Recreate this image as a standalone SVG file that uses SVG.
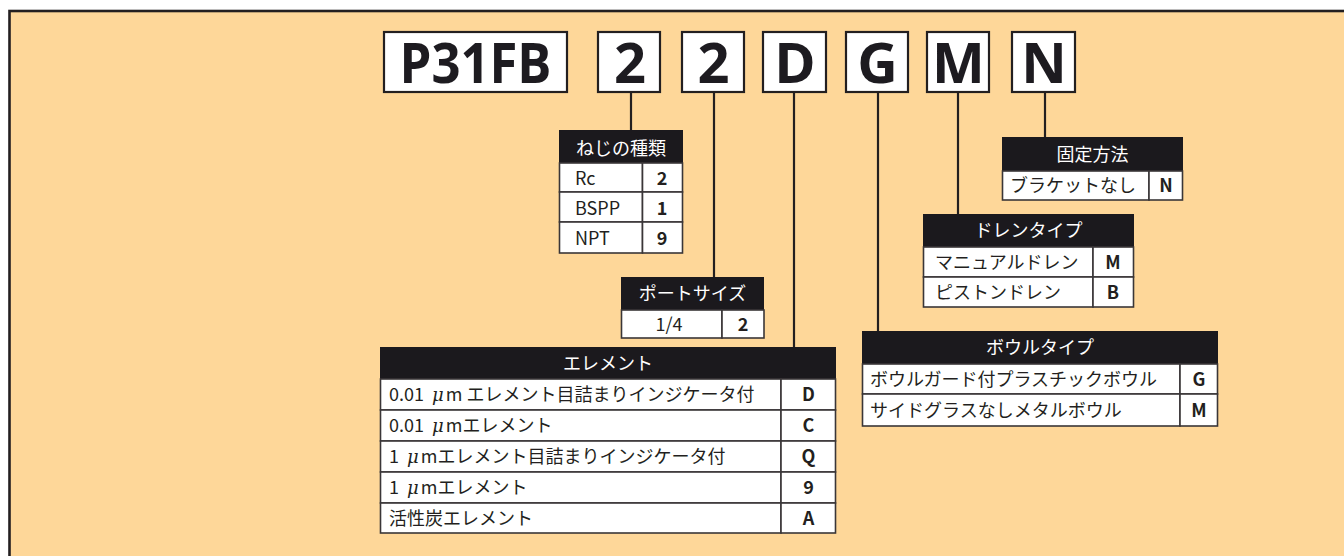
<svg xmlns="http://www.w3.org/2000/svg" width="1344" height="556" viewBox="0 0 1344 556">
<style>
.bg{fill:#fed799;stroke:#231f20;stroke-width:2.6}
.code rect{fill:#fff;stroke:#231f20;stroke-width:2.2}
.code text{font-family:"Open Sans","Noto Sans",sans-serif;font-weight:700;font-size:56px;fill:#1d1b20;text-anchor:middle}
.hd{fill:#1b191d}
.cell{fill:#fff;stroke:#3a3638;stroke-width:1.6}
.ht{font-family:"Noto Sans CJK JP","Noto Sans",sans-serif;font-size:18px;fill:#fff;text-anchor:middle}
.rt{font-family:"Noto Sans CJK JP","Noto Sans",sans-serif;font-size:18px;fill:#231f20}
.ct{font-family:"Noto Sans CJK JP","Noto Sans",sans-serif;font-size:18px;font-weight:700;fill:#231f20;text-anchor:middle}
.mid{text-anchor:middle}
.mu{font-style:italic;font-family:"DejaVu Serif","Liberation Serif",serif}
.conn line{stroke:#231f20;stroke-width:2.2}
</style>
<rect class="bg" x="9.5" y="11" width="1400" height="600"/>

<g id="code-boxes">
<g id="code-P31FB" class="code"><rect x="384" y="32" width="183" height="60"/><text x="475.5" y="83" textLength="152" lengthAdjust="spacingAndGlyphs">P31FB</text></g>
<g id="code-thread" class="code"><rect x="598" y="32" width="62" height="60"/><text x="630" y="83">2</text></g>
<g id="code-port" class="code"><rect x="682" y="32" width="62" height="60"/><text x="713.5" y="83">2</text></g>
<g id="code-element" class="code"><rect x="763" y="32" width="63" height="60"/><text x="795" y="83">D</text></g>
<g id="code-bowl" class="code"><rect x="846" y="32" width="62" height="60"/><text x="877.5" y="83">G</text></g>
<g id="code-drain" class="code"><rect x="927" y="32" width="62" height="60"/><text x="958.5" y="83">M</text></g>
<g id="code-mount" class="code"><rect x="1012" y="32" width="63" height="60"/><text x="1044" y="83">N</text></g>
</g>

<g id="connectors" class="conn">
<line x1="631" y1="92" x2="631" y2="131"/>
<line x1="714" y1="92" x2="714" y2="278"/>
<line x1="794" y1="92" x2="794" y2="348"/>
<line x1="878" y1="92" x2="878" y2="332"/>
<line x1="958" y1="92" x2="958" y2="215"/>
<line x1="1045" y1="92" x2="1045" y2="138"/>
</g>

<g id="table-thread">
<rect class="hd" x="559" y="130" width="124" height="33"/>
<text class="ht" x="621" y="155">ねじの種類</text>
<rect class="cell" x="559.5" y="163" width="83" height="29"/><rect class="cell" x="642.5" y="163" width="40" height="29"/>
<rect class="cell" x="559.5" y="192" width="83" height="30"/><rect class="cell" x="642.5" y="192" width="40" height="30"/>
<rect class="cell" x="559.5" y="222" width="83" height="31"/><rect class="cell" x="642.5" y="222" width="40" height="31"/>
<text class="rt" x="575" y="185">Rc</text><text class="ct" x="662" y="185">2</text>
<text class="rt" x="575" y="215">BSPP</text><text class="ct" x="662" y="215">1</text>
<text class="rt" x="575" y="245">NPT</text><text class="ct" x="662" y="245">9</text>
</g>

<g id="table-port">
<rect class="hd" x="621" y="277" width="143" height="33"/>
<text class="ht" x="692.5" y="300">ポートサイズ</text>
<rect class="cell" x="621.5" y="310" width="100.5" height="28"/><rect class="cell" x="722" y="310" width="42" height="28"/>
<text class="rt mid" x="669" y="331">1/4</text><text class="ct" x="743" y="331">2</text>
</g>

<g id="table-element">
<rect class="hd" x="380" y="347" width="456" height="32"/>
<text class="ht" x="608" y="370">エレメント</text>
<rect class="cell" x="380.5" y="379" width="400.5" height="31"/><rect class="cell" x="781" y="379" width="54.5" height="31"/>
<rect class="cell" x="380.5" y="410" width="400.5" height="31"/><rect class="cell" x="781" y="410" width="54.5" height="31"/>
<rect class="cell" x="380.5" y="441" width="400.5" height="31"/><rect class="cell" x="781" y="441" width="54.5" height="31"/>
<rect class="cell" x="380.5" y="472" width="400.5" height="31"/><rect class="cell" x="781" y="472" width="54.5" height="31"/>
<rect class="cell" x="380.5" y="503" width="400.5" height="30"/><rect class="cell" x="781" y="503" width="54.5" height="30"/>
<text class="rt" x="389" y="401">0.01 <tspan class="mu" dx="4">μ</tspan><tspan dx="2">m エレメント目詰まりインジケータ付</tspan></text><text class="ct" x="808.5" y="401">D</text>
<text class="rt" x="389" y="432">0.01 <tspan class="mu" dx="4">μ</tspan><tspan dx="2">mエレメント</tspan></text><text class="ct" x="808.5" y="432">C</text>
<text class="rt" x="389" y="463">1 <tspan class="mu" dx="4">μ</tspan><tspan dx="2">mエレメント目詰まりインジケータ付</tspan></text><text class="ct" x="808.5" y="463">Q</text>
<text class="rt" x="389" y="494">1 <tspan class="mu" dx="4">μ</tspan><tspan dx="2">mエレメント</tspan></text><text class="ct" x="808.5" y="494">9</text>
<text class="rt" x="389" y="525">活性炭エレメント</text><text class="ct" x="808.5" y="525">A</text>
</g>

<g id="table-drain">
<rect class="hd" x="923" y="214" width="211" height="33"/>
<text class="ht" x="1028.5" y="237">ドレンタイプ</text>
<rect class="cell" x="923.5" y="247" width="169.5" height="30"/><rect class="cell" x="1093" y="247" width="40.5" height="30"/>
<rect class="cell" x="923.5" y="277" width="169.5" height="30"/><rect class="cell" x="1093" y="277" width="40.5" height="30"/>
<text class="rt" x="935" y="269">マニュアルドレン</text><text class="ct" x="1113" y="269">M</text>
<text class="rt" x="935" y="299">ピストンドレン</text><text class="ct" x="1113" y="299">B</text>
</g>

<g id="table-bowl">
<rect class="hd" x="862" y="331" width="356" height="33"/>
<text class="ht" x="1040" y="354">ボウルタイプ</text>
<rect class="cell" x="862.5" y="364" width="317.5" height="30"/><rect class="cell" x="1180" y="364" width="37.5" height="30"/>
<rect class="cell" x="862.5" y="394" width="317.5" height="32"/><rect class="cell" x="1180" y="394" width="37.5" height="32"/>
<text class="rt" x="870" y="386">ボウルガード付プラスチックボウル</text><text class="ct" x="1199" y="386">G</text>
<text class="rt" x="870" y="417">サイドグラスなしメタルボウル</text><text class="ct" x="1199" y="417">M</text>
</g>

<g id="table-mount">
<rect class="hd" x="1002" y="137" width="181" height="34"/>
<text class="ht" x="1092.5" y="161">固定方法</text>
<rect class="cell" x="1002.5" y="171" width="146.5" height="29"/><rect class="cell" x="1149" y="171" width="33.5" height="29"/>
<text class="rt" x="1010" y="192">ブラケットなし</text><text class="ct" x="1166" y="192">N</text>
</g>
</svg>
